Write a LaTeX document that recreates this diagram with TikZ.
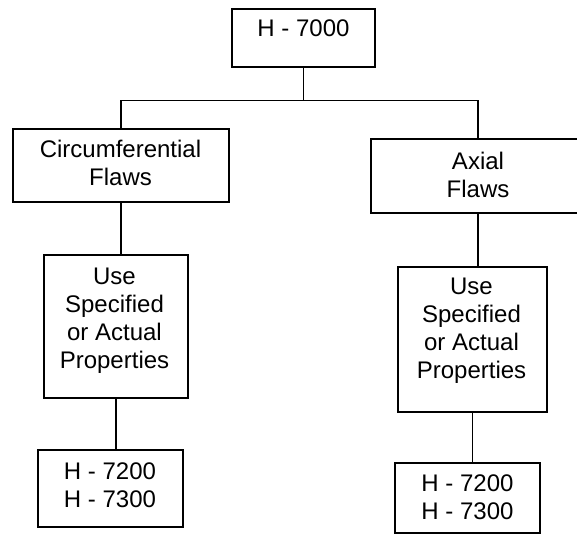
\documentclass[tikz,border=0pt]{standalone}
\usepackage{fontspec}
\setmainfont{Liberation Sans}
\usetikzlibrary{calc}
\begin{document}
\begin{tikzpicture}[x=1pt,y=-1pt,
  box/.style={draw, line width=1.2pt, inner sep=0pt},
  txt/.style={anchor=base, align=center, inner sep=0pt,
    font=\fontsize{24}{28}\selectfont},
  link/.style={line width=1.2pt}]
\useasboundingbox (0,0) rectangle (577,534);

% top of the tree (text placed by the baseline of its last line)
\node[box, minimum width=143pt, minimum height=58pt] (top) at (303.5,38) {};
\node[txt] (topt) at (303.5,37) {H - 7000};

% flaw orientation
\node[box, minimum width=216pt, minimum height=73pt] (circ) at (121,165.5) {};
\node[txt] (circt) at (120.5,186) {Circumferential\\Flaws};
\node[box, minimum width=214pt, minimum height=74pt] (axial) at (478,176) {};
\node[txt] (axialt) at (478,198) {Axial\\Flaws};

% material properties
\node[box, minimum width=144pt, minimum height=143pt] (propc) at (116,326.5) {};
\node[txt] (propct) at (114.5,368) {Use\\Specified\\or Actual\\Properties};
\node[box, minimum width=149pt, minimum height=145pt] (propa) at (472.5,339.5) {};
\node[txt] (propat) at (471.5,378) {Use\\Specified\\or Actual\\Properties};

% referenced articles
\node[box, minimum width=145pt, minimum height=77pt] (refc) at (110.5,488.5) {};
\node[txt] (refct) at (110,507) {H - 7200\\H - 7300};
\node[box, minimum width=145pt, minimum height=70pt] (refa) at (467.5,498) {};
\node[txt] (refat) at (467.5,519) {H - 7200\\H - 7300};

% branching connectors
\coordinate (j) at ($(top.south)+(0,33)$);
\draw[link] (top.south) -- (j);
\draw[link] (j) -| (circ.north);
\draw[link] (j) -| (axial.north);

% vertical connectors down each branch
\draw[link] (circ.south) -- (circ.south |- propc.north);
\draw[link] (axial.south) -- (axial.south |- propa.north);
\draw[link] (propc.south) -- (propc.south |- refc.north);
\draw[link] (propa.south) -- (propa.south |- refa.north);
\end{tikzpicture}
\end{document}
